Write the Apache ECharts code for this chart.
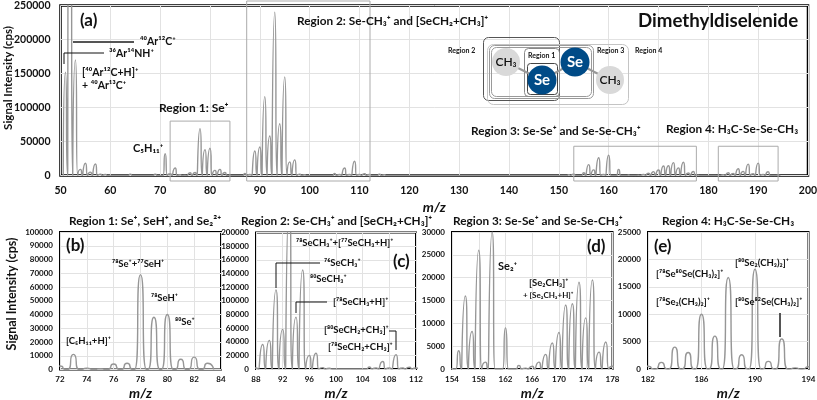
<!DOCTYPE html>
<html>
<head>
<meta charset="utf-8">
<style>
  html, body { margin: 0; padding: 0; background: #fff; }
  #chart { width: 817px; height: 400px; }
</style>
<script src="https://cdn.jsdelivr.net/npm/echarts@6/dist/echarts.min.js"></script>
</head>
<body>
<div id="chart"></div>
<script>
  // peak list, m/z and signal in cps
  const massLow = [51, 52, 53, 54, 55, 56, 57, 58, 59, 60, 64, 69, 71, 72, 73, 74, 75, 76, 77, 78, 79, 80, 81, 82, 83];
  const cpsLow = [152000, 940000, 170000, 9000, 18000, 5000, 17000, 2000, 1500, 500, 2000, 2000, 32000, 2500, 11000, 1000, 500, 4000, 4500, 69000, 38000, 40000, 7500, 9000, 4500];
  const massMid = [87, 88, 89, 90, 91, 92, 93, 94, 95, 96, 97, 98, 99, 105, 106, 107, 108, 109, 110, 111, 112, 114, 115];
  const cpsMid = [3000, 1500, 36000, 42000, 116000, 58000, 240000, 76000, 145000, 20000, 23000, 2000, 1000, 3000, 1500, 11000, 1500, 21000, 1500, 2500, 1500, 2000, 1000];
  const massHigh = [152, 153, 155, 156, 157, 158, 159, 160, 162, 164, 165, 166, 167, 168, 169, 170, 171, 172, 173, 174, 175, 176, 177, 178];
  const cpsHigh = [1000, 2000, 4000, 16000, 8200, 26000, 1500, 30000, 9000, 800, 200, 600, 1500, 3200, 5700, 8000, 14000, 14300, 19000, 11200, 19500, 3700, 5900, 600];
  const massTop = [182, 183, 184, 185, 186, 187, 188, 189, 190, 191, 192, 193, 194];
  const cpsTop = [500, 1200, 4000, 3000, 10000, 6000, 16700, 2600, 18200, 1400, 5500, 200, 400];

  const yTitle = 'Signal Intensity (cps)';
  const xTitle = 'm/z';
  const xTicksD = [154, 158, 162, 166, 170, 174, 178];
  const xTicksE = [182, 186, 190, 194];

  const mass = massLow.concat(massMid, massHigh, massTop);
  const cps = cpsLow.concat(cpsMid, cpsHigh, cpsTop);

  const FONT = 'Lato, "Noto Sans", "DejaVu Sans", sans-serif';
  const LINE = '#969696';

  // each peak goes up from the baseline and back down to it
  function peaks(from, to) {
    let out = [];
    mass.forEach((m, i) => {
      if (m < from - 1 || m > to + 1) return;
      out.push([m - 0.45, 0], [m, cps[i]], [m + 0.45, 0]);
    });
    return out;
  }

  const panels = [
    { box: [60.5, 5.5, 747.5, 170], x: [50, 200], xi: 10, y: 250000, yi: 50000, size: 10.5, border: 2.5 },
    { box: [60, 232, 161, 137.5], x: [72, 84], xi: 2, y: 100000, yi: 10000, size: 8, border: 2 },
    { box: [256, 232.5, 160, 136.5], x: [88, 112], xi: 4, y: 200000, yi: 20000, size: 8, border: 2 },
    { box: [452, 232, 160.5, 137], x: [154, 178], xi: 2, y: 30000, yi: 5000, size: 8, border: 2, ticks: xTicksD },
    { box: [648, 232, 160.5, 137], x: [182, 194], xi: 2, y: 25000, yi: 5000, size: 8, border: 2, ticks: xTicksE }
  ];

  const option = {
    animation: false,
    backgroundColor: '#fff',
    textStyle: { fontFamily: FONT },
    grid: panels.map(p => ({
      left: p.box[0], top: p.box[1], width: p.box[2], height: p.box[3],
      show: true, borderColor: '#000', borderWidth: p.border, backgroundColor: '#fff',
      containLabel: false, outerBoundsMode: 'none'
    })),
    xAxis: panels.map((p, i) => {
      let labelBit = { color: '#111', fontWeight: 'bold', fontSize: p.size, margin: i == 0 ? 10 : 6, fontFamily: FONT, hideOverlap: false };
      let tickBit = { show: false };
      if (p.ticks) {
        labelBit.customValues = p.ticks;
        tickBit.customValues = p.ticks;
      }
      return {
        type: 'value', gridIndex: i, min: p.x[0], max: p.x[1], interval: p.xi,
        axisLine: { show: false }, axisTick: tickBit,
        axisLabel: labelBit,
        splitLine: { show: true, lineStyle: { color: '#e2e2e2', width: 1 } },
        name: xTitle, nameLocation: 'middle', nameGap: i == 0 ? 25 : 17,
        nameTextStyle: { fontStyle: 'italic', fontWeight: 'bold', fontSize: 14, color: '#111', fontFamily: FONT }
      };
    }),
    yAxis: panels.map((p, i) => ({
      type: 'value', gridIndex: i, min: 0, max: p.y, interval: p.yi,
      axisLine: { show: false }, axisTick: { show: false },
      axisLabel: { color: '#111', fontWeight: 'bold', fontSize: p.size, margin: i == 0 ? 10 : 7, fontFamily: FONT, formatter: v => String(v) },
      splitLine: { show: true, lineStyle: { color: '#e2e2e2', width: 1 } }
    })),
    series: panels.map((p, i) => ({
      type: 'line', xAxisIndex: i, yAxisIndex: i,
      data: peaks(p.x[0], p.x[1]),
      smooth: 0.9, showSymbol: false, symbol: 'none', clip: true, silent: true,
      lineStyle: { color: LINE, width: 1.4 }
    }))
  };

  const chart = echarts.init(document.getElementById('chart'), null, { renderer: 'canvas' });
  chart.setOption(option);

  function label(text, x, y, size) {
    return {
      type: 'text', x: x, y: y, z: 100,
      style: { text: text, fontSize: size, fontWeight: 'bold', fontFamily: FONT, fill: '#111', verticalAlign: 'middle', align: 'left' }
    };
  }
  // rotated y axis title, centred on x,y
  function sideLabel(text, x, y, size) {
    return {
      type: 'text', x: x, y: y, z: 100, rotation: Math.PI / 2,
      style: { text: text, fontSize: size, fontWeight: 'bold', fontFamily: FONT, fill: '#111', verticalAlign: 'middle', align: 'center' }
    };
  }
  function wire(points, color, width) {
    return { type: 'polyline', z: 99, shape: { points: points }, style: { stroke: color || '#111', lineWidth: width || 1, fill: 'none' } };
  }
  function box(x1, y1, x2, y2, color, r) {
    return { type: 'rect', z: 98, shape: { x: x1, y: y1, width: x2 - x1, height: y2 - y1, r: r || 0 }, style: { fill: 'none', stroke: color, lineWidth: 1 } };
  }
  function atom(x, y, r, fill, text, textFill, size) {
    return {
      type: 'circle', z: 101, shape: { cx: x, cy: y, r: r }, style: { fill: fill },
      textContent: { z: 102, style: { text: text, fontFamily: FONT, fontSize: size, fontWeight: size > 12 ? 'bold' : 600, fill: textFill } },
      textConfig: { position: 'inside' }
    };
  }
  // region boxes on the survey spectrum, bottoms hang just below the axis
  function regionBox(m1, m2, topCps) {
    let a = chart.convertToPixel({ gridIndex: 0 }, [m1, topCps]);
    let b = chart.convertToPixel({ gridIndex: 0 }, [m2, 0]);
    return box(a[0], a[1], b[0], 181, '#ababab');
  }

  const graphics = [
    sideLabel(yTitle, 8, 78, 11.5),
    sideLabel(yTitle, 12, 294, 12.5),

    regionBox(72, 84, 80000),
    box(246.7, 1, 370, 181, '#ababab'),
    regionBox(153, 177.6, 43000),
    regionBox(182, 194, 43000),

    label('(a)', 80, 21, 17),
    wire([[73, 42], [134, 42]], '#555', 2),
    label('⁴⁰Ar¹²C⁺', 140, 42, 10.5),
    wire([[64, 64], [64, 53], [104, 53]], '#111', 1),
    label('³⁶Ar¹⁴NH⁺', 109, 54, 10.5),
    label('[⁴⁰Ar¹²C+H]⁺', 82, 73, 10.5),
    label('+ ⁴⁰Ar¹³C⁺', 82, 86, 10.5),
    label('Region 1: Se⁺', 159, 108, 12),
    label('C₅H₁₁⁺', 133, 148, 11),
    label('Region 2: Se-CH₃⁺ and [SeCH₂+CH₃]⁺', 297, 21, 11.8),
    label('Region 3: Se-Se⁺ and Se-Se-CH₃⁺', 471, 131, 11.8),
    label('Region 4: H₃C-Se-Se-CH₃', 666, 129, 11.8),
    label('Dimethyldiselenide', 638, 21, 18.7),
    label('Region 2', 448, 51, 7),
    label('Region 1', 528, 56, 7),
    label('Region 3', 597, 51, 7),
    label('Region 4', 635, 51, 7),

    // molecule sketch
    box(483.5, 37.5, 559.5, 100.5, '#555', 5),
    box(487.5, 44.5, 628.5, 104.5, '#c4c4c4', 6),
    box(489.5, 45.5, 593.5, 98.5, '#9a9a9a', 5),
    box(491.5, 47.5, 591.5, 96.5, '#9a9a9a', 5),
    box(524.5, 48.5, 559.5, 96.5, '#888', 4),
    box(527.5, 63.5, 557.5, 94.5, '#444', 3),
    wire([[506, 62], [542, 80]], '#999', 2),
    wire([[542, 80], [575, 62]], '#999', 2),
    wire([[575, 62], [610, 80]], '#999', 2),
    atom(506, 62, 14, '#d9d9d9', 'CH₃', '#111', 12),
    atom(542, 80, 14.5, '#004b87', 'Se', '#fff', 15),
    atom(575, 62, 14.5, '#004b87', 'Se', '#fff', 15),
    atom(610, 80, 14, '#d9d9d9', 'CH₃', '#111', 12),

    // panel b
    label('Region 1: Se⁺, SeH⁺, and Se₂²⁺', 69, 221, 11.8),
    label('(b)', 66, 246, 17),
    label('⁷⁸Se⁺+⁷⁷SeH⁺', 112, 264, 9.5),
    label('⁷⁸SeH⁺', 151, 298, 9.5),
    label('⁸⁰Se⁺', 175, 322, 9.5),
    label('[C₅H₁₁+H]⁺', 66, 341, 9.5),

    // panel c
    label('Region 2: Se-CH₃⁺ and [SeCH₂+CH₃]⁺', 241, 221, 11.8),
    label('⁷⁸SeCH₃⁺+[⁷⁷SeCH₃+H]⁺', 296, 243, 9.5),
    label('⁷⁶SeCH₃⁺', 324, 263, 9.5),
    label('(c)', 393, 262, 17),
    wire([[276, 288], [276, 263], [320, 263]]),
    label('⁸⁰SeCH₃⁺', 310, 279, 9.5),
    label('[⁷⁸SeCH₃+H]⁺', 333, 302, 9.5),
    wire([[296, 313], [296, 302], [327, 302]]),
    label('[⁸⁰SeCH₂+CH₃]⁺', 324, 330, 9.5),
    label('[⁷⁸SeCH₂+CH₃]⁺', 328, 347, 9.5),
    wire([[389, 331], [396, 331], [396, 350]]),

    // panel d
    label('Region 3: Se-Se⁺ and Se-Se-CH₃⁺', 453, 221, 11.8),
    label('(d)', 587, 247, 17),
    label('Se₂⁺', 498, 266, 11),
    label('[Se₂CH₃]⁺', 529, 283, 9.5),
    label('+ [Se₂CH₃+H]⁺', 523, 295, 8),

    // panel e
    label('Region 4: H₃C-Se-Se-CH₃', 662, 221, 11.8),
    label('(e)', 654, 247, 17),
    label('[⁸⁰Se₂(CH₃)₂]⁺', 735, 263, 9.5),
    label('[⁷⁸Se⁸⁰Se(CH₃)₂]⁺', 656, 274, 9.5),
    label('[⁷⁸Se₂(CH₃)₂]⁺', 656, 302, 9.5),
    label('[⁸⁰Se⁸²Se(CH₃)₂]⁺', 735, 302, 9.5),
    wire([[780, 313], [780, 337]], '#555', 2)
  ];

  chart.setOption({ graphic: { elements: graphics } });
</script>
</body>
</html>
